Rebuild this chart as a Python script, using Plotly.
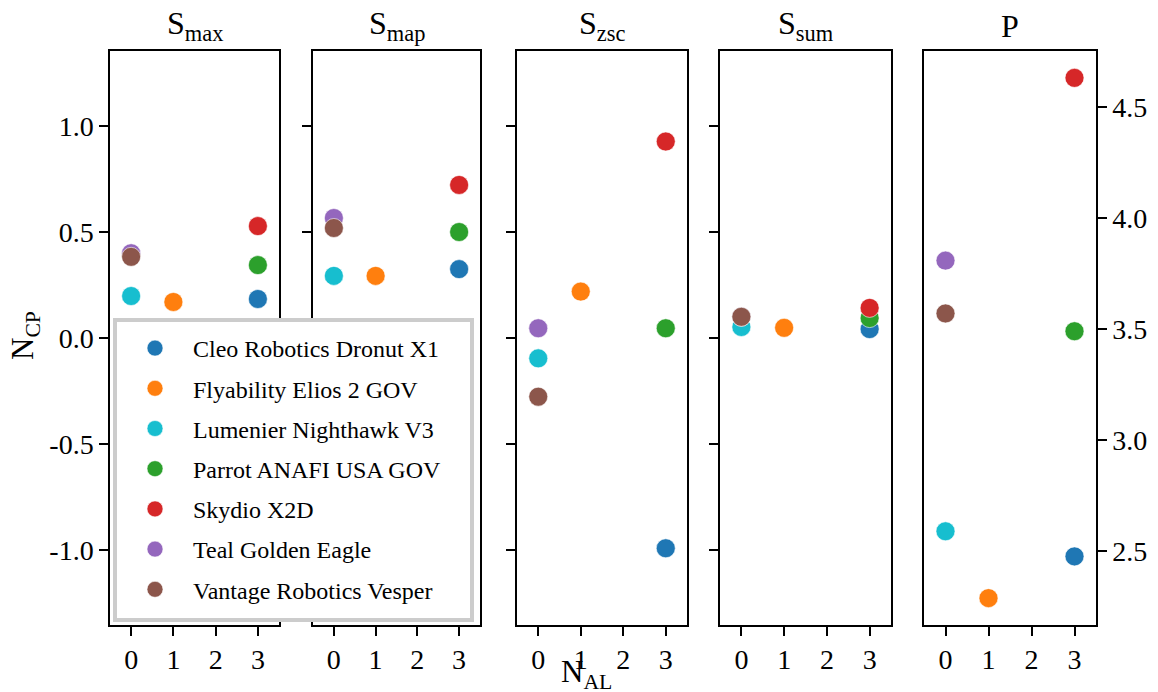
import plotly.graph_objects as go

# The page body has a default 8px margin; positions below are given in
# screen pixels and converted to paper fractions of the figure.
OX, OY = 8, 8
FW, FH = 1150, 684


def px(x):
    return (x - OX) / FW


def py(y):
    return 1 - (y - OY) / FH


names = ["Cleo Robotics Dronut X1", "Flyability Elios 2 GOV", "Lumenier Nighthawk V3",
         "Parrot ANAFI USA GOV", "Skydio X2D", "Teal Golden Eagle", "Vantage Robotics Vesper"]
colors = ["#1f77b4", "#ff7f0e", "#17becf", "#2ca02c", "#d62728", "#9467bd", "#8c564b"]
n_al = [3, 1, 0, 3, 3, 0, 0]

panel_titles = ["S<sub>max</sub>", "S<sub>map</sub>", "S<sub>zsc</sub>", "S<sub>sum</sub>", "P"]
s_max = [0.184, 0.170, 0.198, 0.344, 0.528, 0.400, 0.383]
s_map = [0.325, 0.293, 0.293, 0.500, 0.722, 0.566, 0.519]
s_zsc = [-0.992, 0.219, -0.096, 0.046, 0.927, 0.046, -0.277]
s_sum = [0.042, 0.048, 0.052, 0.094, 0.142, 0.100, 0.100]
p_val = [2.476, 2.288, 2.589, 3.490, 4.631, 3.808, 3.570]
panel_data = [s_max, s_map, s_zsc, s_sum, p_val]

x_ticks = [0, 1, 2, 3]
y_ticks = [-1.0, -0.5, 0.0, 0.5, 1.0]
y_ticktext = ["-1.0", "-0.5", "0.0", "0.5", "1.0"]
p_ticks = [2.5, 3.0, 3.5, 4.0, 4.5]
p_ticktext = ["2.5", "3.0", "3.5", "4.0", "4.5"]

FONT = "Liberation Serif"
panel_px = [(110, 279), (313, 480), (517, 687), (720, 891), (924, 1096)]
top_px, bot_px = 51, 625
ydom = [py(bot_px), py(top_px)]

fig = go.Figure()
for pi, vals in enumerate(panel_data):
    k = "" if pi == 0 else str(pi + 1)
    for i, nm in enumerate(names):
        fig.add_trace(go.Scatter(
            x=[n_al[i]], y=[vals[i]], mode="markers", name=nm, legendgroup=nm,
            marker=dict(size=19, color=colors[i], line=dict(width=0.6, color="white")),
            showlegend=(pi == 0), xaxis="x" + k, yaxis="y" + k,
        ))

axis_common = dict(showline=True, mirror=True, linecolor="black", linewidth=1.5,
                   ticks="outside", ticklen=9, tickwidth=1.5, tickcolor="black",
                   showgrid=False, zeroline=False,
                   tickfont=dict(family=FONT, size=28, color="black"))
layout = {}
for pi, (l, r) in enumerate(panel_px):
    k = "" if pi == 0 else str(pi + 1)
    layout["xaxis" + k] = dict(axis_common, domain=[px(l), px(r)], range=[-0.5, 3.5],
                               tickvals=x_ticks, anchor="y" + k)
    if pi < 4:
        layout["yaxis" + k] = dict(axis_common, domain=ydom, range=[-1.354, 1.354],
                                   tickvals=y_ticks, ticktext=y_ticktext,
                                   showticklabels=(pi == 0), anchor="x" + k)
    else:
        layout["yaxis" + k] = dict(axis_common, domain=ydom, range=[2.167, 4.752],
                                   tickvals=p_ticks, ticktext=p_ticktext,
                                   side="right", anchor="x" + k)

annotations = []
for pi, (l, r) in enumerate(panel_px):
    annotations.append(dict(text=panel_titles[pi], x=px((l + r) / 2), y=py(26),
                            xref="paper", yref="paper", showarrow=False,
                            xanchor="center", yanchor="middle",
                            font=dict(family=FONT, size=32, color="black")))
annotations.append(dict(text="N<sub>CP</sub>", x=px(25), y=py(336), xref="paper", yref="paper",
                        showarrow=False, textangle=-90, xanchor="center", yanchor="middle",
                        font=dict(family=FONT, size=31, color="black")))
annotations.append(dict(text="N<sub>AL</sub>", x=px(586), y=py(674), xref="paper", yref="paper",
                        showarrow=False, xanchor="center", yanchor="middle",
                        font=dict(family=FONT, size=31, color="black")))

shapes = [dict(type="rect", xref="paper", yref="paper", layer="above",
               x0=px(115), x1=px(472), y0=py(620), y1=py(320),
               fillcolor="white", line=dict(color="#cccccc", width=4))]

fig.update_layout(
    **layout,
    width=FW, height=FH,
    margin=dict(l=0, r=0, t=0, b=0),
    paper_bgcolor="white", plot_bgcolor="white",
    annotations=annotations, shapes=shapes,
    legend=dict(x=px(117), y=py(326), xanchor="left", yanchor="top",
                bgcolor="rgba(0,0,0,0)", borderwidth=0, itemwidth=66,
                traceorder="grouped", tracegroupgap=6,
                font=dict(family=FONT, size=24, color="black")),
    showlegend=True,
)

fig.write_html("out.html")
